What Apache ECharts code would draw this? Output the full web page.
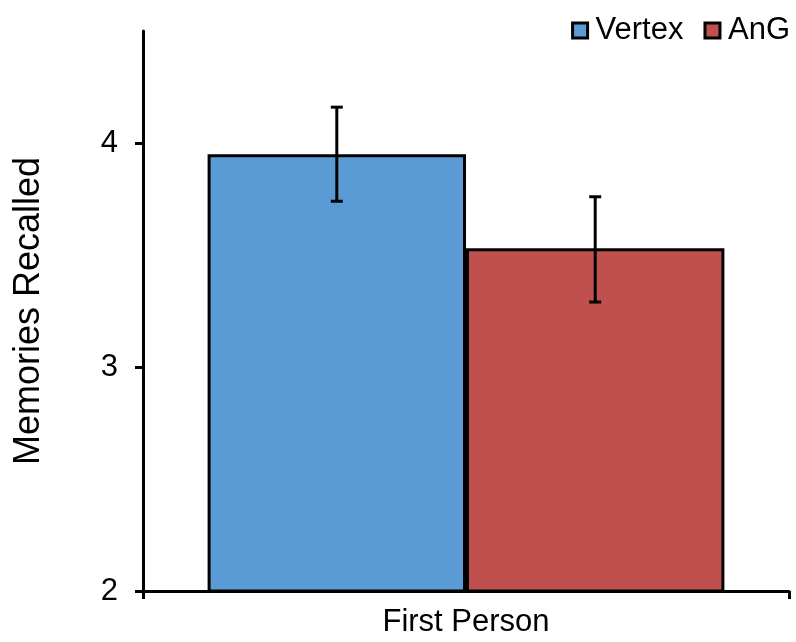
<!DOCTYPE html>
<html>
<head>
<meta charset="utf-8">
<script src="https://cdn.jsdelivr.net/npm/echarts@6/dist/echarts.min.js"></script>
<style>html,body{margin:0;padding:0;background:#fff}#c{width:796px;height:642px}</style>
</head>
<body>
<div id="c"></div>
<script>
const categories = ['First Person'];
const seriesNames = ['Vertex', 'AnG'];
const vertexMean = [3.95];
const vertexLow = [3.74];
const vertexHigh = [4.16];
const angMean = [3.53];
const angLow = [3.29];
const angHigh = [3.76];
const yTicks = [2, 3, 4];

const FONT = '"Liberation Sans", Arial, sans-serif';
const chart = echarts.init(document.getElementById('c'), null, {renderer: 'canvas'});

function errSeries(name, lows, highs, offsetFrac) {
  return {
    type: 'custom',
    name: name + ' err',
    silent: true,
    z: 10,
    data: categories.map((c, i) => [i, lows[i], highs[i]]),
    renderItem: function (params, api) {
      const band = api.size([1, 0])[0];
      const lo = api.coord([api.value(0), api.value(1)]);
      const hi = api.coord([api.value(0), api.value(2)]);
      const x = lo[0] + offsetFrac * band;
      const cap = 6;
      const st = {stroke: '#000', lineWidth: 3};
      return {
        type: 'group',
        children: [
          {type: 'line', shape: {x1: x, y1: lo[1], x2: x, y2: hi[1]}, style: st},
          {type: 'line', shape: {x1: x - cap, y1: lo[1], x2: x + cap, y2: lo[1]}, style: st},
          {type: 'line', shape: {x1: x - cap, y1: hi[1], x2: x + cap, y2: hi[1]}, style: st}
        ]
      };
    }
  };
}

chart.setOption({
  animation: false,
  backgroundColor: '#fff',
  textStyle: {fontFamily: FONT},
  legend: {
    data: seriesNames,
    icon: 'rect',
    right: 1,
    top: 10,
    itemWidth: 15,
    itemHeight: 15,
    itemGap: 20,
    textStyle: {fontFamily: FONT, fontSize: 31, color: '#000', padding: [0, 0, 0, 3]},
    itemStyle: {borderColor: '#000', borderWidth: 3}
  },
  grid: {left: 143, right: 7, top: 31, bottom: 51, containLabel: false},
  xAxis: {
    type: 'category',
    data: categories,
    axisLine: {lineStyle: {color: '#000', width: 3}},
    axisTick: {show: true, length: 8, lineStyle: {color: '#000', width: 3}},
    axisLabel: {fontFamily: FONT, fontSize: 31, color: '#000', margin: 16}
  },
  yAxis: {
    type: 'value',
    min: 2,
    max: 4.5,
    interval: 1,
    name: 'Memories Recalled',
    nameLocation: 'middle',
    nameGap: 96,
    nameTextStyle: {fontFamily: FONT, fontSize: 36, color: '#000'},
    splitLine: {show: false},
    axisLine: {show: true, lineStyle: {color: '#000', width: 3}},
    axisTick: {show: true, length: 8, customValues: yTicks, lineStyle: {color: '#000', width: 3}},
    axisLabel: {fontFamily: FONT, fontSize: 31, color: '#000', margin: 25, customValues: yTicks}
  },
  series: [
    {
      name: 'Vertex', type: 'bar', data: vertexMean,
      barGap: '0%', barCategoryGap: '20%',
      itemStyle: {color: '#5B9BD5', borderColor: '#000', borderWidth: 3}
    },
    {
      name: 'AnG', type: 'bar', data: angMean,
      barGap: '0%', barCategoryGap: '20%',
      itemStyle: {color: '#C0504D', borderColor: '#000', borderWidth: 3}
    },
    errSeries('Vertex', vertexLow, vertexHigh, -0.2),
    errSeries('AnG', angLow, angHigh, 0.2)
  ]
});
</script>
</body>
</html>
